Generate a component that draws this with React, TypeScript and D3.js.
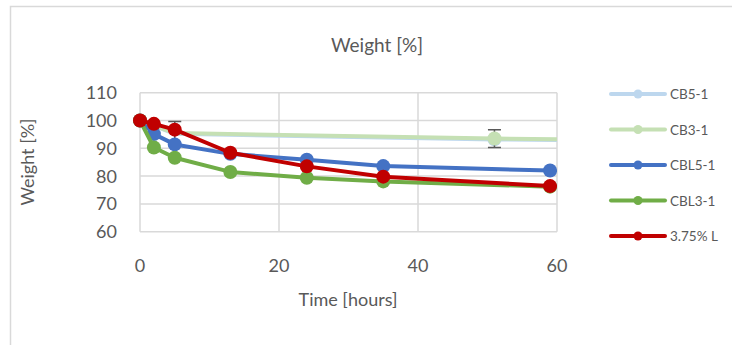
import React from "react";
import * as d3 from "d3";

// Sample weight over time, in percent of initial weight
const seriesNames = ["CB5-1", "CB3-1", "CBL5-1", "CBL3-1", "3.75% L"];
const seriesColors = ["#bdd7ee", "#c5e0b4", "#4472c4", "#70ad47", "#c00000"];

const cb51Hours = [0, 5, 51, 72];
const cb51Weight = [100, 95.2, 93.2, 92.8];
const cb31Hours = [0, 5, 51, 72];
const cb31Weight = [100, 95.5, 93.5, 93.0];
const cb31ErrorHours = [5, 51];
const cb31ErrorWeight = [95.5, 93.5];
const cb31ErrorSize = [4.1, 3.2];
const cbl51Hours = [0, 2, 5, 13, 24, 35, 59];
const cbl51Weight = [100, 95.1, 91.4, 88.0, 85.9, 83.6, 82.0];
const cbl31Hours = [0, 2, 5, 13, 24, 35, 59];
const cbl31Weight = [100, 90.3, 86.6, 81.5, 79.4, 78.1, 76.2];
const l375Hours = [0, 2, 5, 13, 24, 35, 59];
const l375Weight = [100, 98.8, 96.7, 88.4, 83.5, 79.8, 76.4];

const xTicks = [0, 20, 40, 60];
const yTicks = [60, 70, 80, 90, 100, 110];

const allHours = [cb51Hours, cb31Hours, cbl51Hours, cbl31Hours, l375Hours];
const allWeights = [cb51Weight, cb31Weight, cbl51Weight, cbl31Weight, l375Weight];
const hasMarkers = [false, false, true, true, true];

const W = 732;
const H = 345;
const font = "Lato, 'Open Sans', sans-serif";
const textColor = "#595959";
const gridColor = "#d9d9d9";

export default function App() {
  const x = d3.scaleLinear().domain([0, 60]).range([140, 557]);
  const y = d3.scaleLinear().domain([60, 110]).range([231.7, 92.7]);
  const line = d3
    .line<[number, number]>()
    .x((d) => x(d[0]))
    .y((d) => y(d[1]));

  const legendY = d3
    .scalePoint<string>()
    .domain(seriesNames)
    .range([94, 236]);

  return (
    <svg
      width={W}
      height={H}
      style={{ position: "absolute", left: 0, top: 0, background: "#fff" }}
    >
      <defs>
        <clipPath id="plotClip">
          <rect x={x(0) - 10} y={y(110) - 10} width={x(60) - x(0) + 10} height={y(60) - y(110) + 20} />
        </clipPath>
      </defs>
      {/* chart frame */}
      <rect x={10.5} y={6.5} width={W + 20} height={H + 20} fill="none" stroke={gridColor} strokeWidth={1.5} />

      <text x={377} y={52} textAnchor="middle" fontFamily={font} fontSize={19} fill={textColor}>
        Weight [%]
      </text>

      {/* gridlines */}
      {yTicks.map((t) => (
        <line key={"gy" + t} x1={x(0)} x2={x(60)} y1={y(t)} y2={y(t)} stroke={gridColor} strokeWidth={1.5} />
      ))}
      {xTicks.map((t) => (
        <line key={"gx" + t} x1={x(t)} x2={x(t)} y1={y(110)} y2={y(60)} stroke={gridColor} strokeWidth={1.5} />
      ))}

      {/* tick labels */}
      {yTicks.map((t) => (
        <text key={"ly" + t} x={117} y={y(t) + 6.5} textAnchor="end" fontFamily={font} fontSize={18} fill={textColor}>
          {t}
        </text>
      ))}
      {xTicks.map((t) => (
        <text key={"lx" + t} x={x(t)} y={272} textAnchor="middle" fontFamily={font} fontSize={18} fill={textColor}>
          {t}
        </text>
      ))}

      <text x={348} y={306} textAnchor="middle" fontFamily={font} fontSize={18} fill={textColor}>
        Time [hours]
      </text>
      <text
        transform={`translate(34,162) rotate(-90)`}
        textAnchor="middle"
        fontFamily={font}
        fontSize={18}
        fill={textColor}
      >
        Weight [%]
      </text>

      {/* series */}
      <g clipPath="url(#plotClip)">
        {allHours.map((hs, i) => {
          const pts = hs.map((h, j) => [h, allWeights[i][j]] as [number, number]);
          return (
            <g key={"s" + i}>
              <path d={line(pts) || ""} fill="none" stroke={seriesColors[i]} strokeWidth={4} strokeLinejoin="round" />
              {i === 1 &&
                cb31ErrorHours.map((h, j) => {
                  const cx = x(h);
                  const top = y(cb31ErrorWeight[j] + cb31ErrorSize[j]);
                  const bot = y(cb31ErrorWeight[j] - cb31ErrorSize[j]);
                  return (
                    <g key={"e" + j} stroke="#595959" strokeWidth={1.5}>
                      <line x1={cx} x2={cx} y1={top} y2={bot} />
                      <line x1={cx - 6.5} x2={cx + 6.5} y1={top} y2={top} />
                      <line x1={cx - 6.5} x2={cx + 6.5} y1={bot} y2={bot} />
                    </g>
                  );
                })}
              {pts
                .filter((p) => p[0] <= 60 && (hasMarkers[i] || (p[0] > 40)))
                .map((p, j) => (
                  <circle key={j} cx={x(p[0])} cy={y(p[1])} r={7} fill={seriesColors[i]} />
                ))}
            </g>
          );
        })}
      </g>

      {/* legend */}
      {seriesNames.map((name, i) => {
        const ly = legendY(name) as number;
        return (
          <g key={"lg" + i}>
            <line x1={611} x2={665} y1={ly} y2={ly} stroke={seriesColors[i]} strokeWidth={4} strokeLinecap="round" />
            <circle cx={638} cy={ly} r={4.5} fill={seriesColors[i]} />
            <text x={670} y={ly + 5} fontFamily={font} fontSize={13.5} fill={textColor}>
              {name}
            </text>
          </g>
        );
      })}
    </svg>
  );
}
